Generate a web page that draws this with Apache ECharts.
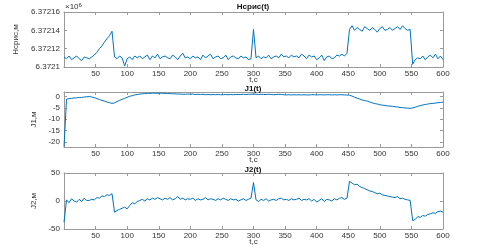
<!DOCTYPE html>
<html>
<head>
<meta charset="utf-8">
<script src="https://cdn.jsdelivr.net/npm/echarts@6/dist/echarts.min.js"></script>
<style>
  html, body { margin: 0; padding: 0; background: #fff; }
  #main { width: 490px; height: 250px; }
</style>
</head>
<body>
<div id="main"></div>
<script>
// time grid, every 4 s from 0 to 600
var T = [];
for (var t = 0; t <= 600; t += 4) T.push(t);

// Hсрис(t): metres above H_BASE
var H_BASE = 6372100;
var hOffset = [
  11, 9, 12, 8, 10, 12, 9, 7, 11, 10,
  9, 11, 13, 16, 20, 23, 27, 31, 34, 39,
  11, 9, 12, 10, 1, 9, 11, 8, 12, 10,
  12, 9, 11, 13, 8, 12, 10, 14, 9, 11,
  12, 10, 9, 13, 11, 8, 12, 15, 10, 11,
  9, 12, 10, 11, 8, 13, 10, 12, 14, 9,
  11, 12, 9, 10, 13, 8, 11, 12, 10, 9,
  12, 10, 11, 8, 9, 41, 10, 12, 9, 11,
  10, 13, 9, 11, 12, 10, 14, 11, 12, 10,
  13, 11, 12, 10, 14, 12, 9, 13, 11, 12,
  8, 10, 13, 7, 11, 12, 9, 10, 13, 12,
  14, 12, 15, 41, 45, 40, 43, 41, 39, 44,
  42, 40, 43, 41, 38, 42, 44, 40, 41, 43,
  40, 42, 44, 41, 45, 42, 40, 41, 3, 8,
  10, 9, 12, 8, 11, 13, 10, 14, 9, 12,
  8
];

var j1 = [
  -22, -1.2, -0.9, -0.8, -0.6, -0.6, -0.4, -0.4, -0.2, -0.1,
  0, -0.2, -0.5, -0.9, -1.3, -1.7, -2.0, -2.4, -2.7, -3.0,
  -2.8, -2.2, -1.7, -1.2, -0.8, -0.3, 0.1, 0.4, 0.7, 0.9,
  1.1, 1.2, 1.3, 1.4, 1.4, 1.5, 1.5, 1.4, 1.5, 1.4,
  1.4, 1.3, 1.3, 1.2, 1.2, 1.1, 1.1, 1.0, 1.0, 1.1,
  1.0, 1.1, 0.9, 1.0, 0.9, 1.0, 0.8, 0.9, 0.8, 0.9,
  0.8, 0.9, 0.8, 0.8, 0.9, 0.8, 0.9, 0.8, 0.9, 0.9,
  0.9, 1.0, 0.9, 1.0, 1.0, 1.1, 1.0, 0.9, 1.0, 0.9,
  0.9, 1.0, 0.9, 0.8, 0.9, 1.0, 0.9, 0.8, 0.7, 0.8,
  0.7, 0.8, 0.7, 0.8, 0.7, 0.8, 0.7, 0.7, 0.8, 0.8,
  0.7, 0.8, 0.8, 0.7, 0.8, 0.8, 0.7, 0.8, 0.7, 0.8,
  0.8, 0.7, 0.7, 0.6, 0.2, -0.3, -0.7, -1.1, -1.5, -1.8,
  -2.0, -2.4, -2.8, -3.1, -3.3, -3.6, -3.8, -3.9, -4.1, -4.2,
  -4.3, -4.5, -4.6, -4.8, -4.9, -5.0, -5.1, -5.2, -5.0, -4.7,
  -4.3, -4.0, -3.7, -3.5, -3.3, -3.1, -3.0, -2.9, -2.7, -2.6,
  -2.5
];

var j2 = [
  -38, 2, -3, 4, 0, -2, 3, -1, 5, 1,
  1, 3, 2, 6, 5, 9, 8, 11, 10, 13,
  -20, -17, -15, -13, -11, -14, -8, -3, -5, -1,
  1, 3, 0, 4, 2, 5, 3, 6, 4, 2,
  5, 3, 6, 2, 4, 8, 3, 5, 2, 4,
  3, 5, 1, 4, 2, 3, 6, 2, 4, 3,
  1, 4, 2, 5, 3, 1, 4, 2, 3, 0,
  2, 4, 1, 3, 5, 33, 2, -1, 3, 1,
  4, 0, 2, 3, 1, 4, 5, 2, 3, 1,
  4, 2, 3, 5, 1, 3, 2, 4, 0, 3,
  -2, 1, 4, -1, 3, 2, 0, 4, 2, 5,
  6, 3, 5, 35, 32, 29, 30, 26, 24, 22,
  20, 18, 17, 15, 13, 14, 11, 10, 9, 8,
  7, 6, 8, 4, 5, 3, 2, 1, -35, -33,
  -28, -29, -26, -27, -24, -23, -21, -22, -19, -18,
  -20
];

var xTicks = [50, 100, 150, 200, 250, 300, 350, 400, 450, 500, 550, 600];
var j1Ticks = [-20, -15, -10, -5, 0];

var FONT = "Liberation Sans";
var AX = "#9a9a9a";
var TXT = "#333";
var BLUE = "#0072BD";

var grids = [
  { left: 64, right: 47, top: 12, height: 55 },
  { left: 64, right: 47, top: 92, height: 55 },
  { left: 64, right: 47, top: 173, height: 56 }
];

function pairs(vals, base) {
  return vals.map(function (v, i) { return [T[i], (base || 0) + v]; });
}

var xAxes = [];
var yAxes = [];
var yCfg = [
  { min: H_BASE, max: H_BASE + 60, interval: 20, name: "Нсрис,м", gap: 41,
    fmt: function (v) { return String(+(v / 1e6).toFixed(5)); } },
  { min: -22.2, max: 2, ticks: j1Ticks, name: "J1,м", gap: 22 },
  { min: -50, max: 50, interval: 50, name: "J2,м", gap: 22 }
];

for (var g = 0; g < 3; g++) {
  // bottom axis with labels
  xAxes.push({
    gridIndex: g, type: "value", min: 0, max: 600, position: "bottom",
    name: "t,c", nameLocation: "middle", nameGap: 9, nameMoveOverlap: false,
    nameTextStyle: { color: TXT, fontSize: 8, fontFamily: FONT },
    axisLine: { show: true, onZero: false, lineStyle: { color: AX, width: 1 } },
    axisTick: { show: true, inside: true, length: 3, customValues: xTicks, lineStyle: { color: AX } },
    axisLabel: { show: true, customValues: xTicks, color: TXT, fontSize: 8, fontFamily: FONT, margin: 3 },
    splitLine: { show: false }
  });
  // top axis, box only
  xAxes.push({
    gridIndex: g, type: "value", min: 0, max: 600, position: "top",
    axisLine: { show: true, onZero: false, lineStyle: { color: AX, width: 1 } },
    axisTick: { show: true, inside: true, length: 3, customValues: xTicks, lineStyle: { color: AX } },
    axisLabel: { show: false },
    splitLine: { show: false }
  });

  var c = yCfg[g];
  var left = {
    gridIndex: g, type: "value", min: c.min, max: c.max, position: "left",
    name: c.name, nameLocation: "middle", nameGap: c.gap,
    nameTextStyle: { color: TXT, fontSize: 8, fontFamily: FONT },
    axisLine: { show: true, onZero: false, lineStyle: { color: AX, width: 1 } },
    axisTick: { show: true, inside: true, length: 3, lineStyle: { color: AX } },
    axisLabel: { show: true, color: TXT, fontSize: 8, fontFamily: FONT, margin: 4 },
    splitLine: { show: false }
  };
  var right = {
    gridIndex: g, type: "value", min: c.min, max: c.max, position: "right",
    axisLine: { show: true, onZero: false, lineStyle: { color: AX, width: 1 } },
    axisTick: { show: true, inside: true, length: 3, lineStyle: { color: AX } },
    axisLabel: { show: false },
    splitLine: { show: false }
  };
  if (c.interval) { left.interval = c.interval; right.interval = c.interval; }
  if (c.ticks) {
    left.axisTick.customValues = c.ticks; left.axisLabel.customValues = c.ticks;
    right.axisTick.customValues = c.ticks;
  }
  if (c.fmt) left.axisLabel.formatter = c.fmt;
  yAxes.push(left, right);
}

var lineStyle = { color: BLUE, width: 1 };
var titleStyle = { fontSize: 8, fontWeight: "bold", color: "#111", fontFamily: FONT };

var option = {
  animation: false,
  backgroundColor: "#fff",
  title: [
    { text: "Нсрис(t)", left: 253, top: 3, padding: 0, textAlign: "center", textStyle: titleStyle },
    { text: "J1(t)", left: 253, top: 85, padding: 0, textAlign: "center", textStyle: titleStyle },
    { text: "J2(t)", left: 253, top: 166, padding: 0, textAlign: "center", textStyle: titleStyle }
  ],
  graphic: [{
    type: "text", left: 65, top: 2,
    style: {
      text: "×10{s|6}", fill: TXT, font: "8px " + FONT,
      rich: { s: { fontSize: 6, verticalAlign: "top", padding: [0, 0, 4, 0] } }
    }
  }],
  grid: grids,
  xAxis: xAxes,
  yAxis: yAxes,
  series: [
    { type: "line", xAxisIndex: 0, yAxisIndex: 0, data: pairs(hOffset, H_BASE),
      showSymbol: false, lineStyle: lineStyle, clip: true },
    { type: "line", xAxisIndex: 2, yAxisIndex: 2, data: pairs(j1),
      showSymbol: false, lineStyle: lineStyle, clip: true },
    { type: "line", xAxisIndex: 4, yAxisIndex: 4, data: pairs(j2),
      showSymbol: false, lineStyle: lineStyle, clip: true }
  ]
};

var myChart = echarts.init(document.getElementById("main"));
myChart.setOption(option);
</script>
</body>
</html>
